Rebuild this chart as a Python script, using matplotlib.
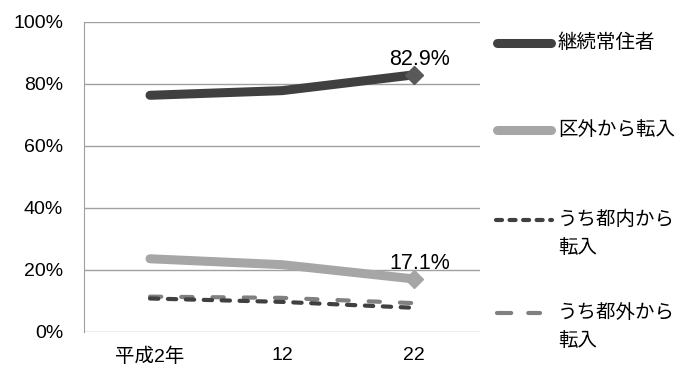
import matplotlib.pyplot as plt
from matplotlib.lines import Line2D

plt.rcParams['font.family'] = ['Liberation Sans', 'Noto Sans CJK JP']

years = ['平成2年', '12', '22']
keizoku = [76.3, 77.8, 82.9]
kugai = [23.6, 21.7, 17.1]
tonai = [10.8, 9.7, 7.8]
togai = [11.4, 11.0, 9.3]
labels = ['継続常住者', '区外から転入', 'うち都内から\n転入', 'うち都外から\n転入']

fig = plt.figure(figsize=(6.8, 3.69), dpi=100)
ax = fig.add_axes([0.1235, 0.1003, 0.5825, 0.8407])

x = list(range(len(years)))
ax.plot(x, keizoku, color='#404040', lw=6.5, solid_capstyle='round', zorder=3)
ax.plot(x[-1], keizoku[-1], marker='D', ms=9, color='#595959', zorder=4)
ax.plot(x, kugai, color='#a6a6a6', lw=6.5, solid_capstyle='round', zorder=3)
ax.plot(x[-1], kugai[-1], marker='D', ms=9, color='#a6a6a6', zorder=4)
l3, = ax.plot(x, tonai, color='#404040', lw=3, dash_capstyle='round', zorder=3)
l3.set_dashes((2.0, 2.3))
l4, = ax.plot(x, togai, color='#808080', lw=3, dash_capstyle='round', zorder=2)
l4.set_dashes((2.7, 4.8))

ax.annotate('82.9%', (x[-1], keizoku[-1]), xytext=(4, 3.5), textcoords='offset points',
            ha='center', va='bottom', fontsize=15.5)
ax.annotate('17.1%', (x[-1], kugai[-1]), xytext=(4, 3.5), textcoords='offset points',
            ha='center', va='bottom', fontsize=15.5)

ax.set_xlim(-0.5, 2.5)
ax.set_ylim(0, 100)
ax.set_yticks(range(0, 101, 20))
ax.set_yticklabels([f'{v}%' for v in range(0, 101, 20)])
ax.set_xticks(x)
ax.set_xticklabels(years)
ax.tick_params(length=0, labelsize=14)
ax.tick_params(axis='x', pad=11)
ax.tick_params(axis='y', pad=15)
ax.grid(axis='y', color='#a0a0a0', lw=1)
ax.set_axisbelow(True)
for s in ['top', 'right', 'bottom']:
    ax.spines[s].set_visible(False)
ax.spines['left'].set_color('#a0a0a0')

# legend drawn by hand to match the wide spacing
def fy(py):
    return 1 - py / 369

def fx(px):
    return px / 680

leg_y = [43, 130, 220, 313]
leg_x = [(497, 551), (497, 551), (496, 552), (497, 540)]
styles = [
    dict(color='#404040', lw=6.5, solid_capstyle='round'),
    dict(color='#a6a6a6', lw=6.5, solid_capstyle='round'),
    dict(color='#404040', lw=3, dash_capstyle='round', dashes=(1.45, 1.8)),
    dict(color='#808080', lw=3, dash_capstyle='round', dashes=(3.4, 4.1)),
]
for yy, (x0, x1), st, lab in zip(leg_y, leg_x, styles, labels):
    fig.add_artist(Line2D([fx(x0), fx(x1)], [fy(yy), fy(yy)], transform=fig.transFigure, **st))
    for i, part in enumerate(lab.split('\n')):
        fig.text(fx(558), fy(yy + 28 * i), part, fontsize=14, va='center')

fig.savefig('out.png', dpi=100)
